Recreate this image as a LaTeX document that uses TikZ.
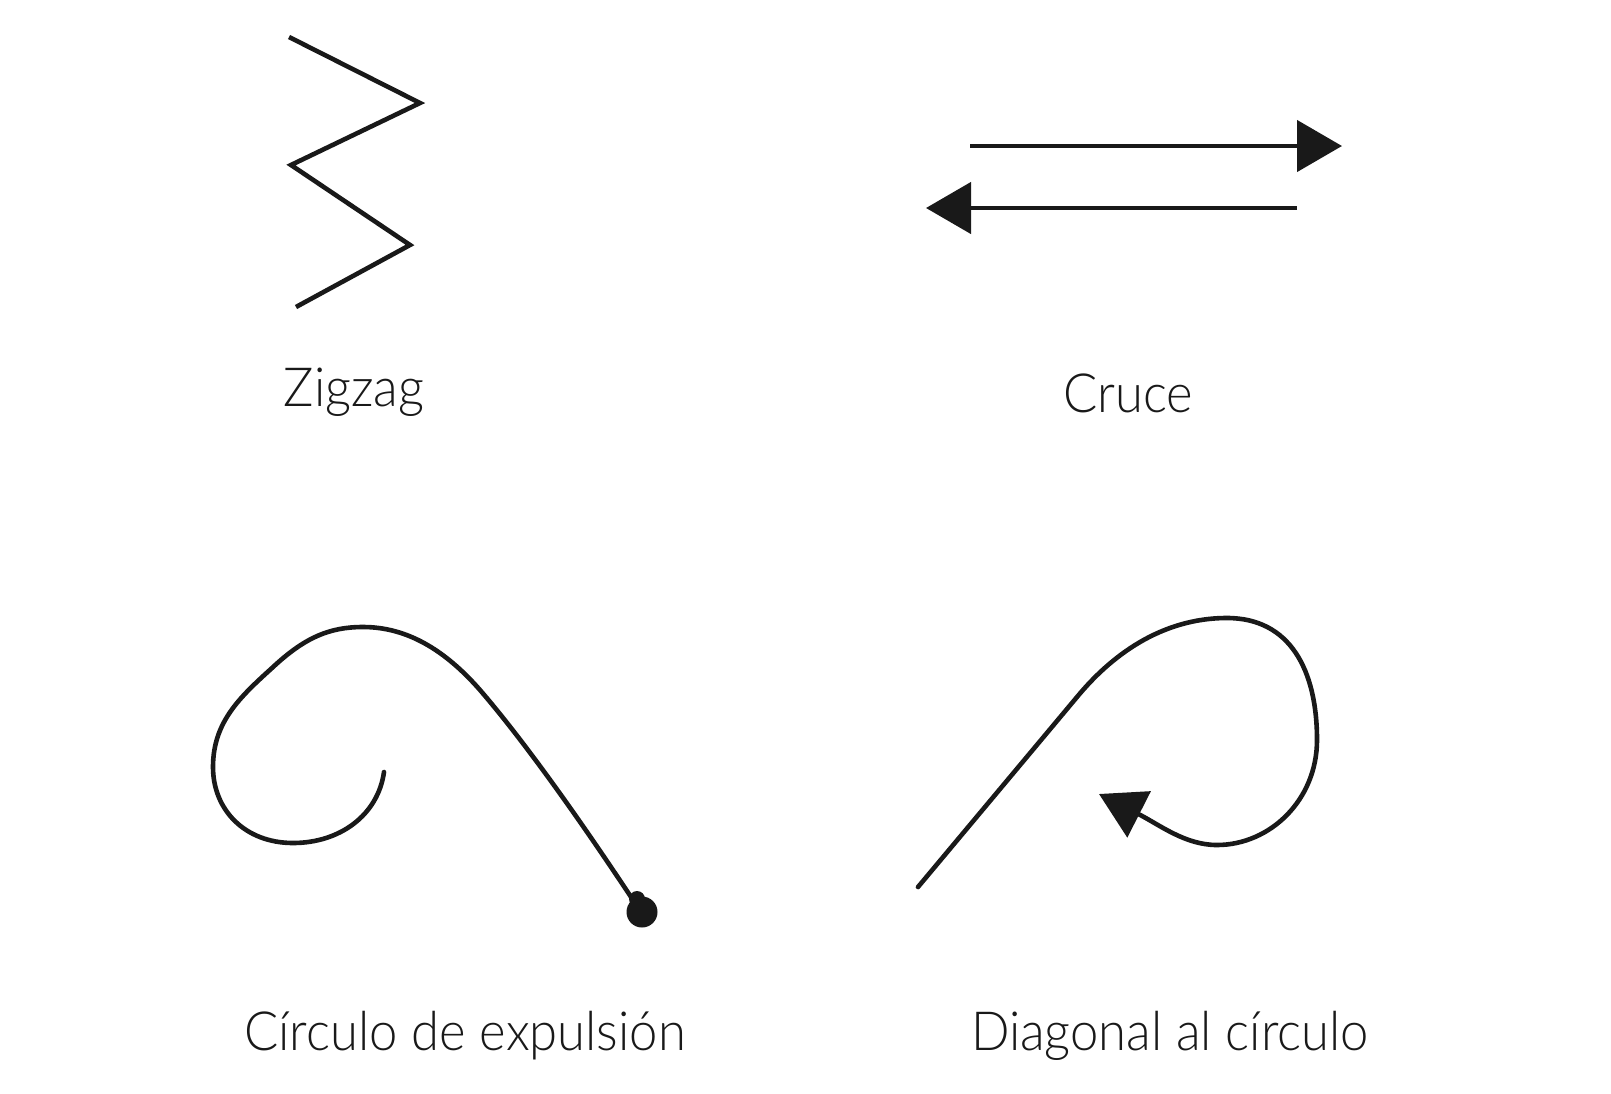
\documentclass[tikz,border=0pt]{standalone}
\usepackage{fontspec}
\setmainfont{Lato Light}[FakeStretch=0.94]
\usetikzlibrary{arrows.meta}
\tikzset{
  stroke/.style={line width=4.6pt, draw=black!90},
  bigtip/.style={-{Triangle[length=45pt,width=51pt]}},
  label/.style={font=\fontsize{54}{60}\selectfont, text=black!90, anchor=base, inner sep=0pt}
}
\begin{document}
\begin{tikzpicture}[x=1pt,y=-1pt]
\useasboundingbox (0,0) rectangle (1611,1093);
\fill[white] (0,0) rectangle (1611,1093);

% Zigzag
\coordinate (z1) at (289,37);
\coordinate (z2) at (420,103);
\coordinate (z3) at (291,165);
\coordinate (z4) at (410,245);
\coordinate (z5) at (296,307);
\draw[stroke] (z1) -- (z2) -- (z3) -- (z4) -- (z5);
\node[label] (tzig) at (354,406) {Zigzag};

% Cruce
\coordinate (c1s) at (970,146);
\coordinate (c1e) at (1342,146);
\coordinate (c2s) at (1297,208);
\coordinate (c2e) at (926,208);
\draw[stroke, bigtip] (c1s) -- (c1e);
\draw[stroke, bigtip] (c2s) -- (c2e);
\node[label] (tcruce) at (1128,412) {Cruce};

% Circulo de expulsion
\coordinate (e0) at (384,772);
\coordinate (e1) at (293,843);
\coordinate (e2) at (213,767);
\coordinate (e3) at (272,668);
\coordinate (e4) at (363,627);
\coordinate (e5) at (480,690);
\coordinate (e6) at (633,900);
\draw[stroke, line cap=round]
  (e0) .. controls (378,815) and (340,843) .. (e1)
       .. controls (245,843) and (213,810) .. (e2)
       .. controls (213,722) and (240,697) .. (e3)
       .. controls (305,637) and (330,627) .. (e4)
       .. controls (407,627) and (445,650) .. (e5)
       .. controls (530,748) and (590,835) .. (e6);
\fill[black!90] (642,912) circle (15.5);
\fill[black!90] (637,899) circle (8);
\node[label] (texp) at (465,1050) {Círculo de expulsión};

% Diagonal al circulo
\coordinate (d0) at (918,887);
\coordinate (d1) at (1077,697);
\coordinate (d2) at (1227,618);
\coordinate (d3) at (1317,740);
\coordinate (d4) at (1217,845);
\coordinate (d5) at (1099,794);
\draw[stroke, bigtip, line cap=round]
  (d0) -- (d1)
       .. controls (1110,657) and (1160,618) .. (d2)
       .. controls (1290,618) and (1317,670) .. (d3)
       .. controls (1317,800) and (1270,845) .. (d4)
       .. controls (1185,845) and (1160,825) .. (d5);
\node[label] (tdiag) at (1170,1050) {Diagonal al círculo};
\end{tikzpicture}
\end{document}
